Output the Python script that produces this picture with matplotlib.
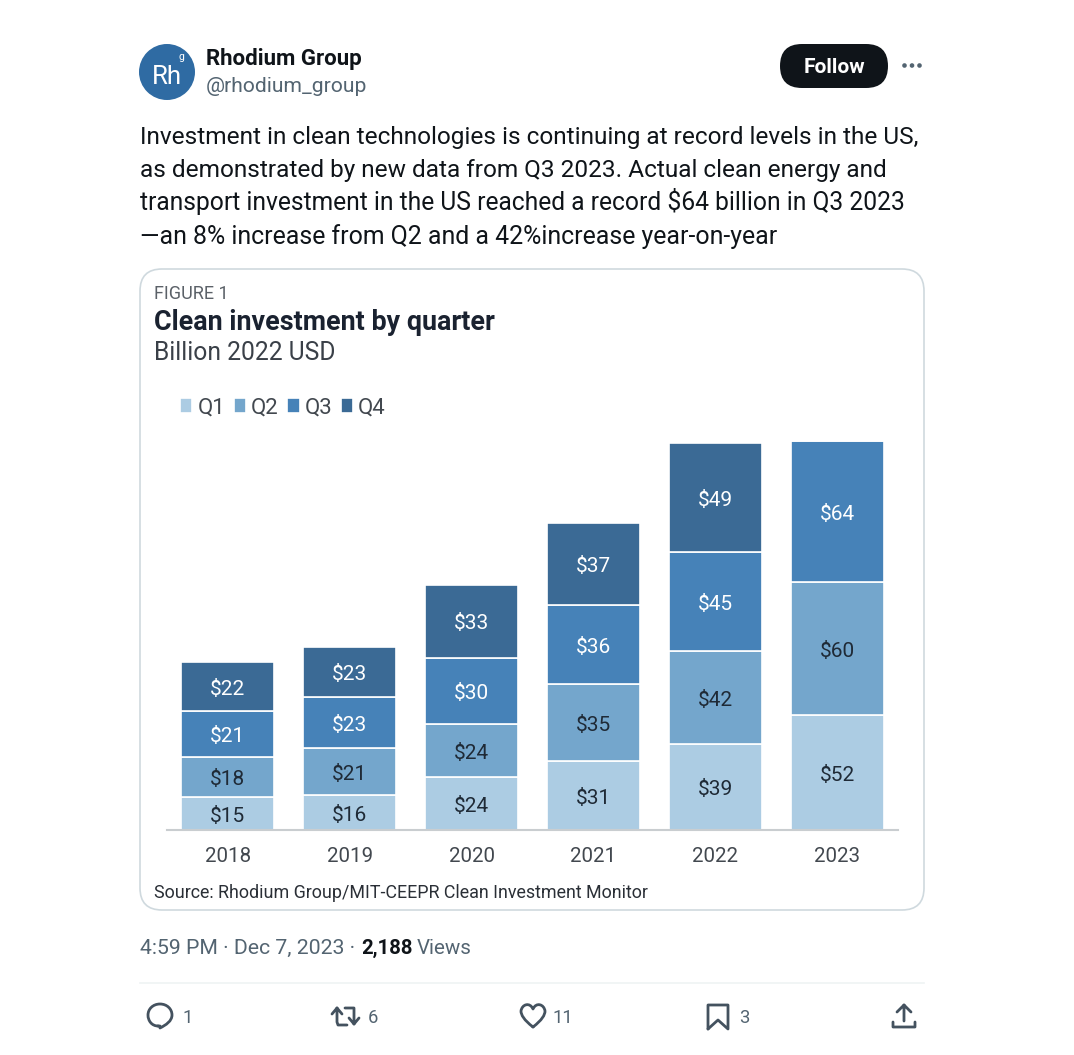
import numpy as np
import matplotlib
matplotlib.use("Agg")
import matplotlib.pyplot as plt
from matplotlib.patches import FancyBboxPatch, Circle, PathPatch
from matplotlib.path import Path

plt.rcParams['font.family'] = ['Roboto', 'DejaVu Sans']

years = ['2018', '2019', '2020', '2021', '2022', '2023']
q1 = [15, 16, 24, 31, 39, 52]
q2 = [18, 21, 24, 35, 42, 60]
q3 = [21, 23, 30, 36, 45, 64]
q4 = [22, 23, 33, 37, 49, np.nan]
series_names = ['Q1', 'Q2', 'Q3', 'Q4']
colors = ['#acccE3', '#74a6cc', '#4682b8', '#3b6a95']
label_colors = ['#1f2a36', '#1f2a36', '#ffffff', '#ffffff']

tweet_lines = [
    'Investment in clean technologies is continuing at record levels in the US,',
    'as demonstrated by new data from Q3 2023. Actual clean energy and',
    'transport investment in the US reached a record $64 billion in Q3 2023',
    '—an 8% increase from Q2 and a 42%increase year-on-year',
]

W, H = 1074, 1055
fig = plt.figure(figsize=(W / 100, H / 100), dpi=100, facecolor='white')
bg = fig.add_axes([0, 0, 1, 1])
bg.set_xlim(0, W)
bg.set_ylim(H, 0)
bg.axis('off')

INK = '#0f1419'
GREY = '#536471'

# Header
bg.add_patch(Circle((167, 72), 28, color='#2f6ba3', lw=0))
bg.text(167, 83.5, 'Rh', color='white', fontsize=18.6, ha='center', va='baseline')
bg.text(181, 60.5, 'g', color='white', fontsize=7.5, ha='center', va='baseline')
bg.text(206, 65, 'Rhodium Group', color=INK, fontsize=16, fontweight='bold', va='baseline')
bg.text(206, 92.5, '@rhodium_group', color=GREY, fontsize=15.2, va='baseline')
bg.add_patch(FancyBboxPatch((780, 44), 108, 44, boxstyle='round,pad=0,rounding_size=22',
                            fc=INK, ec=INK, lw=0))
bg.text(834, 73, 'Follow', color='white', fontsize=15, fontweight='bold', ha='center', va='baseline')
for cx in (904.5, 912, 919.5):
    bg.add_patch(Circle((cx, 65.5), 2.3, color=GREY, lw=0))

# Tweet body
for line, y, fs in zip(tweet_lines, [144, 177, 210, 243.7], [17.6, 17.6, 17.73, 17.92]):
    bg.text(139.5, y, line, color=INK, fontsize=fs, va='baseline')

# Card
bg.add_patch(FancyBboxPatch((140, 269), 784, 641, boxstyle='round,pad=0,rounding_size=22',
                            fc='white', ec='#cfd9de', lw=1.2))
bg.text(154, 299, 'FIGURE 1', color='#5b6168', fontsize=13, va='baseline')
bg.text(154, 330, 'Clean investment by quarter', color='#1a2230', fontsize=19.4, fontweight='bold', va='baseline')
bg.text(154, 359.5, 'Billion 2022 USD', color='#3a4048', fontsize=17.7, va='baseline')
bg.text(154, 898, 'Source: Rhodium Group/MIT-CEEPR Clean Investment Monitor', color='#2a2f36',
        fontsize=12.9, va='baseline')

# Footer
bg.text(139.5, 953.5, '4:59 PM · Dec 7, 2023 · ', color=GREY, fontsize=15.3, va='baseline')
bg.text(361.5, 953.5, '2,188', color=INK, fontsize=14.7, fontweight='bold', va='baseline')
bg.text(417, 953.5, 'Views', color=GREY, fontsize=14.8, va='baseline')
bg.plot([140, 924], [983, 983], color='#eff3f4', lw=1.2)

ICON = dict(fc='none', ec='#44525f', lw=2.0, capstyle='round', joinstyle='round')
# reply
bg.add_patch(PathPatch(Path(
    [(158, 1026), (152, 1026), (148, 1021), (148, 1015), (148, 1009), (153, 1004), (160, 1004),
     (167, 1004), (172, 1009), (172, 1015), (172, 1021), (166, 1025), (160, 1028), (160, 1026), (158, 1026)],
    [1, 4, 4, 4, 4, 4, 4, 4, 4, 4, 4, 4, 4, 2, 2]), **ICON))
# retweet
bg.add_patch(PathPatch(Path(
    [(332, 1014), (337, 1008), (342, 1014), (337, 1008), (337, 1022), (338, 1025), (347, 1025),
     (345, 1008), (354, 1008), (354, 1024), (349, 1018), (354, 1024), (359, 1018)],
    [1, 2, 2, 1, 2, 2, 2, 1, 2, 2, 1, 2, 2]), **ICON))
# heart
bg.add_patch(PathPatch(Path(
    [(533, 1027), (524, 1020), (521, 1015), (521, 1011), (522, 1004), (530, 1002), (533, 1009),
     (536, 1002), (544, 1004), (545, 1011), (545, 1015), (542, 1020), (533, 1027)],
    [1, 4, 4, 4, 4, 4, 4, 4, 4, 4, 4, 4, 4]), **ICON))
# bookmark
bg.add_patch(PathPatch(Path(
    [(708, 1029), (708, 1005), (728, 1005), (728, 1029), (718, 1020), (708, 1029)],
    [1, 2, 2, 2, 2, 2]), **ICON))
# share
bg.add_patch(PathPatch(Path(
    [(904, 1021), (904, 1005), (897, 1012), (904, 1005), (911, 1012),
     (893, 1022), (893, 1027), (915, 1027), (915, 1022)],
    [1, 2, 1, 2, 2, 1, 2, 2, 2]), **ICON))
for x, s in [(182, '1'), (368, '6'), (553, '11'), (739, '3')]:
    bg.text(x, 1023, s, color=GREY, fontsize=13.2, va='baseline')

# Chart
x0, x1, ytop, ybase = 167, 898, 430, 830
ax = fig.add_axes([x0 / W, 1 - ybase / H, (x1 - x0) / W, (ybase - ytop) / H])
ax.patch.set_alpha(0)
x = np.arange(len(years))
bottom = np.zeros(len(years))
handles = []
for name, vals, col, lc in zip(series_names, [q1, q2, q3, q4], colors, label_colors):
    v = np.array(vals, dtype=float)
    bars = ax.bar(x, np.nan_to_num(v), 0.763, bottom=bottom, color=col, edgecolor='white', linewidth=1.2, label=name)
    handles.append(bars)
    for xi, b, h in zip(x, bottom, v):
        if not np.isnan(h):
            ax.annotate(f'${h:.0f}', (xi, b + h / 2), xytext=(0, -2), textcoords='offset points',
                        color=lc, fontsize=15, ha='center', va='center')
    bottom += np.nan_to_num(v)
ax.set_xlim(-0.5, 5.5)
ax.set_ylim(0, (ybase - ytop) / 2.21)
ax.set_yticks([])
ax.set_xticks(x, years)
ax.tick_params(axis='x', length=0, pad=12.5, labelsize=14.8, labelcolor='#42484f')
for s in ('top', 'left', 'right'):
    ax.spines[s].set_visible(False)
ax.spines['bottom'].set_color('#c9cdd0')
ax.spines['bottom'].set_linewidth(1.5)
ax.legend(handles=handles, ncols=4, loc='center left', frameon=False,
          bbox_to_anchor=((180 - x0) / (x1 - x0), (ybase - 408) / (ybase - ytop)),
          bbox_transform=ax.transAxes, handlelength=0.56, handleheight=0.62,
          handletextpad=0.22, columnspacing=0.38, borderaxespad=0, borderpad=0,
          fontsize=16, labelcolor='#42484f')

fig.savefig('out.png', dpi=100, facecolor='white')
